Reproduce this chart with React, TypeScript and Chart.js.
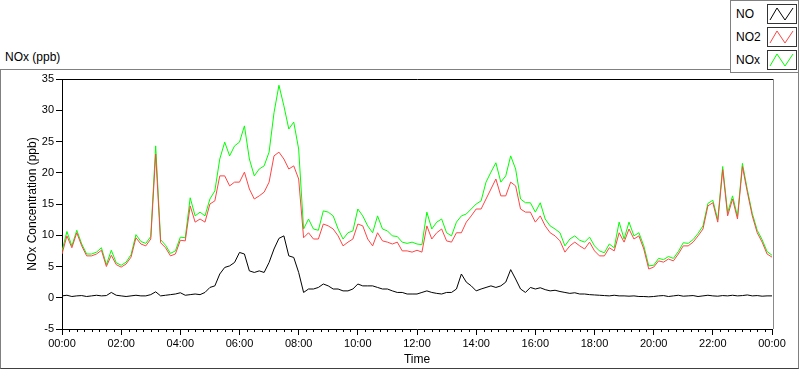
import React, { useEffect, useRef } from "react";
import { Chart, registerables } from "chart.js";

Chart.register(...registerables);

// Sampling step of the series (minutes after 00:00)
const STEP_MINUTES = 10;

const NO_VALUES = [
  0.3, 0.4, 0.2, 0.3, 0.35, 0.2, 0.3, 0.4, 0.3, 0.35,
  0.85, 0.4, 0.3, 0.2, 0.3, 0.4, 0.3, 0.3, 0.5, 0.95,
  0.3, 0.4, 0.5, 0.6, 0.8, 0.4, 0.5, 0.6, 0.5, 0.85,
  1.65, 1.9, 3.8, 4.85, 5.1, 5.65, 7.25, 7.0, 4.3, 4.05,
  4.3, 4.05, 5.65, 7.8, 9.5, 9.9, 6.7, 6.45, 4.05, 0.85,
  1.4, 1.4, 1.65, 2.2, 1.9, 1.4, 1.4, 1.1, 1.1, 1.4,
  2.2, 1.9, 1.9, 1.9, 1.65, 1.4, 1.4, 1.1, 0.85, 0.85,
  0.6, 0.6, 0.6, 0.85, 1.1, 0.85, 0.7, 0.6, 0.85, 0.85,
  1.4, 3.8, 2.5, 1.9, 1.1, 1.4, 1.65, 1.9, 1.65, 1.9,
  2.5, 4.5, 3.0, 1.4, 0.85, 1.65, 1.4, 1.6, 1.3, 1.1,
  1.2, 1.0, 0.85, 0.7, 0.8, 0.6, 0.6, 0.5, 0.45, 0.4,
  0.35, 0.3, 0.4, 0.3, 0.3, 0.25, 0.3, 0.2, 0.2, 0.15,
  0.2, 0.3, 0.35, 0.2, 0.3, 0.4, 0.25, 0.3, 0.35, 0.2,
  0.3, 0.4, 0.3, 0.25, 0.35, 0.3, 0.4, 0.3, 0.35, 0.45,
  0.3, 0.35, 0.25, 0.3, 0.3,
];

const NO2_VALUES = [
  7.0, 9.9, 8.0, 10.4, 8.3, 6.7, 6.7, 7.0, 7.6, 5.0,
  6.8, 5.3, 4.9, 5.4, 6.5, 9.6, 8.6, 8.3, 9.4, 23.0,
  8.8, 8.0, 6.7, 7.0, 9.2, 9.1, 14.7, 12.1, 12.6, 12.1,
  15.0, 15.5, 19.5, 19.5, 17.9, 18.5, 18.5, 20.1, 17.4, 15.8,
  16.3, 16.9, 18.5, 22.7, 23.3, 22.2, 20.6, 21.1, 19.0, 9.6,
  10.4, 9.4, 9.4, 11.8, 11.5, 11.0, 9.9, 8.3, 8.9, 9.4,
  11.8, 11.5, 9.4, 8.3, 10.4, 9.1, 8.9, 8.6, 8.9, 7.5,
  7.5, 7.3, 7.6, 7.3, 11.5, 9.4, 10.4, 11.0, 9.1, 8.9,
  10.4, 10.4, 12.1, 13.1, 14.2, 14.2, 15.8, 17.4, 19.0, 16.3,
  16.3, 18.5, 17.9, 14.2, 13.7, 13.7, 12.1, 13.1, 11.5, 10.4,
  9.9, 9.1, 7.3, 8.3, 8.9, 8.3, 7.8, 8.9, 7.5, 6.7,
  6.7, 8.0, 7.5, 10.4, 8.9, 11.0, 9.4, 9.9, 7.8, 4.6,
  4.9, 5.9, 5.7, 6.2, 5.9, 7.0, 8.3, 8.3, 8.9, 9.9,
  11.0, 14.7, 15.2, 12.1, 20.5, 13.1, 15.8, 12.6, 21.0, 16.9,
  13.1, 10.4, 8.9, 7.0, 6.5,
];

const NOX_VALUES = [
  7.5, 10.6, 8.3, 10.8, 8.6, 7.0, 7.0, 7.3, 8.0, 5.3,
  7.6, 5.6, 5.2, 5.7, 6.9, 10.1, 9.0, 8.7, 9.8, 24.3,
  9.3, 8.4, 7.1, 7.5, 9.7, 9.6, 16.0, 13.1, 13.7, 13.1,
  15.8, 17.1, 22.2, 24.9, 22.7, 24.3, 24.9, 27.5, 22.2, 19.5,
  20.6, 21.1, 23.3, 29.6, 34.0, 30.7, 27.0, 28.1, 23.8, 11.0,
  12.6, 11.0, 10.8, 13.9, 13.7, 13.1, 11.0, 9.4, 10.4, 10.7,
  14.2, 13.1, 11.5, 10.4, 13.1, 11.0, 10.7, 9.9, 9.8, 8.9,
  8.7, 8.9, 8.6, 8.5, 13.7, 11.0, 12.1, 12.6, 10.4, 9.9,
  12.1, 13.1, 13.4, 14.2, 15.0, 15.5, 18.5, 20.1, 21.6, 18.5,
  19.5, 22.7, 20.6, 15.8, 15.2, 15.2, 13.7, 15.2, 12.6, 11.5,
  11.0, 10.4, 8.3, 9.4, 9.9, 9.2, 8.9, 9.7, 8.3, 7.5,
  7.2, 8.6, 8.0, 12.1, 9.4, 12.1, 9.9, 10.4, 8.3, 5.1,
  5.2, 6.3, 6.1, 6.6, 6.3, 7.4, 8.8, 8.7, 9.3, 10.3,
  11.5, 15.1, 15.6, 12.5, 21.0, 13.6, 16.3, 13.0, 21.5, 17.3,
  13.5, 10.8, 9.3, 7.4, 6.8,
];

const SERIES_NAMES = ["NO", "NO2", "NOx"];
const SERIES_COLORS = ["#000000", "#ff4444", "#00ff00"];

const X_TICK_MINUTES = [0, 120, 240, 360, 480, 600, 720, 840, 960, 1080, 1200, 1320, 1440];
const X_TICK_LABELS = ["00:00", "02:00", "04:00", "06:00", "08:00", "10:00", "12:00", "14:00", "16:00", "18:00", "20:00", "22:00", "00:00"];
const X_MINOR_STEP = 15;
const Y_TICKS = [-5, 0, 5, 10, 15, 20, 25, 30, 35];

const FONT = "'Liberation Sans', Arial, sans-serif";

function toPoints(values: number[]) {
  return values.map((v, i) => ({ x: i * STEP_MINUTES, y: v }));
}

const framePlugin = {
  id: "frameAndMinorTicks",
  afterDraw(chart: any) {
    const { ctx, chartArea } = chart;
    const xs = chart.scales.x;
    ctx.save();
    ctx.lineWidth = 1;
    ctx.strokeStyle = "#000";
    ctx.beginPath();
    for (let m = 0; m <= 1440; m += X_MINOR_STEP) {
      if (X_TICK_MINUTES.includes(m)) continue;
      const px = Math.round(xs.getPixelForValue(m)) + 0.5;
      ctx.moveTo(px, chartArea.bottom);
      ctx.lineTo(px, chartArea.bottom + 3);
    }
    ctx.stroke();
    // top border
    ctx.beginPath();
    ctx.moveTo(chartArea.left, Math.round(chartArea.top) + 0.5);
    ctx.lineTo(chartArea.right + 1, Math.round(chartArea.top) + 0.5);
    ctx.stroke();
    // right border (gray)
    ctx.strokeStyle = "#8a8a8a";
    ctx.beginPath();
    ctx.moveTo(Math.round(chartArea.right) + 1.5, chartArea.top);
    ctx.lineTo(Math.round(chartArea.right) + 1.5, chartArea.bottom);
    ctx.stroke();
    ctx.restore();
  },
};

function Swatch({ color }: { color: string }) {
  return (
    <svg width={30} height={20} style={{ display: "block" }}>
      <rect x={0.5} y={0.5} width={29} height={19} fill="#fff" stroke="#333" />
      <polyline points="3,16 10,4 18,16 26,4" fill="none" stroke={color} strokeWidth={1} />
    </svg>
  );
}

export default function App() {
  const canvasRef = useRef<HTMLCanvasElement | null>(null);

  useEffect(() => {
    const canvas = canvasRef.current;
    if (!canvas) return;
    const seriesValues = [NO_VALUES, NO2_VALUES, NOX_VALUES];
    const chart = new Chart(canvas, {
      type: "line",
      data: {
        datasets: SERIES_NAMES.map((name, i) => ({
          label: name,
          data: toPoints(seriesValues[i]),
          borderColor: SERIES_COLORS[i],
          backgroundColor: SERIES_COLORS[i],
          borderWidth: 1,
          pointRadius: 0,
          tension: 0,
          fill: false,
        })),
      },
      options: {
        animation: false,
        responsive: false,
        devicePixelRatio: 1,
        parsing: false as any,
        layout: { padding: { left: 0, top: 79, right: 28, bottom: 0 } },
        plugins: { legend: { display: false }, tooltip: { enabled: false } },
        scales: {
          x: {
            type: "linear",
            min: 0,
            max: 1440,
            afterBuildTicks: (scale: any) => {
              scale.ticks = X_TICK_MINUTES.map((v) => ({ value: v }));
            },
            afterFit: (scale: any) => {
              scale.height = 40;
            },
            ticks: {
              autoSkip: false,
              maxRotation: 0,
              padding: 2,
              color: "#000",
              font: { family: FONT, size: 11 },
              callback: (v: any) => {
                const idx = X_TICK_MINUTES.indexOf(Number(v));
                return idx >= 0 ? X_TICK_LABELS[idx] : "";
              },
            },
            grid: { drawOnChartArea: false, tickLength: 6, tickColor: "#000" },
            border: { color: "#000", width: 1 },
            title: {
              display: true,
              text: "Time",
              color: "#000",
              font: { family: FONT, size: 12 },
              padding: { top: 0, bottom: 2 },
            },
          },
          y: {
            type: "linear",
            min: -5,
            max: 35,
            afterBuildTicks: (scale: any) => {
              scale.ticks = Y_TICKS.map((v) => ({ value: v }));
            },
            afterFit: (scale: any) => {
              scale.width = 62;
            },
            ticks: {
              padding: 2,
              color: "#000",
              font: { family: FONT, size: 11 },
            },
            grid: { drawOnChartArea: false, tickLength: 6, tickColor: "#000" },
            border: { color: "#000", width: 1 },
            title: {
              display: true,
              text: "NOx Concentration (ppb)",
              color: "#000",
              font: { family: FONT, size: 12 },
              padding: { top: 25, bottom: 0 },
            },
          },
        },
      } as any,
      plugins: [framePlugin],
    });
    return () => chart.destroy();
  }, []);

  return (
    <div
      style={{
        position: "fixed",
        left: 0,
        top: 0,
        width: 800,
        height: 369,
        background: "#fff",
        overflow: "hidden",
        fontFamily: FONT,
        color: "#000",
      }}
    >
      <div
        style={{
          position: "absolute",
          left: 0,
          top: 69,
          width: 799,
          height: 300,
          boxSizing: "border-box",
          border: "1px solid #808080",
          borderBottomColor: "#404040",
        }}
      />
      <div style={{ position: "absolute", left: 5, top: 50, fontSize: 12, lineHeight: "14px" }}>NOx (ppb)</div>
      <canvas
        ref={canvasRef}
        width={800}
        height={369}
        style={{ position: "absolute", left: 0, top: 0, width: 800, height: 369 }}
      />
      <div
        style={{
          position: "absolute",
          left: 730,
          top: 0,
          width: 69,
          height: 73,
          boxSizing: "border-box",
          border: "1px solid #808080",
          background: "#fff",
        }}
      >
        {SERIES_NAMES.map((name, i) => (
          <div
            key={name}
            style={{
              position: "absolute",
              left: 0,
              top: 3 + i * 23,
              width: 67,
              height: 20,
            }}
          >
            <span style={{ position: "absolute", left: 5, top: 3, fontSize: 12, lineHeight: "14px" }}>{name}</span>
            <div style={{ position: "absolute", left: 36, top: 0 }}>
              <Swatch color={SERIES_COLORS[i]} />
            </div>
          </div>
        ))}
      </div>
    </div>
  );
}
